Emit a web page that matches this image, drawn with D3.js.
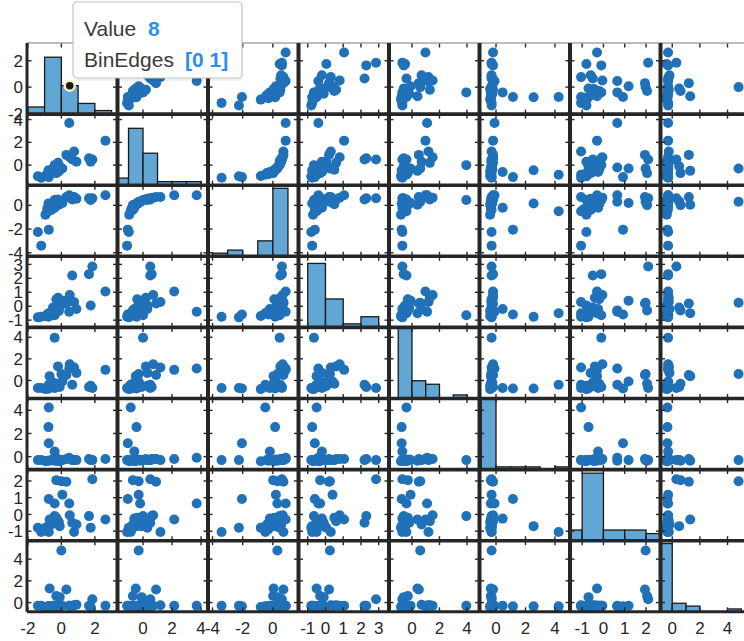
<!DOCTYPE html>
<html><head><meta charset="utf-8">
<script src="https://cdn.jsdelivr.net/npm/d3@7"></script>
<style>
body{margin:0;background:#fff;}
svg{display:block;font-family:"Liberation Sans",Arial,Helvetica,sans-serif;}
</style>
</head><body>
<svg id="c" width="744" height="641"></svg>
<script>
// ---- data: 30 observations of 8 variables ----
const v1 = [0.47,2.63,1.85,1.65,1.75,0.65,0.76,-0.75,-0.77,-0.75,-0.4,-0.4,0.0,-1.2,-1.4,-0.3,0.3,0.06,-0.4,-0.7,-0.95,-0.6,-0.5,-0.2,-0.1,-0.85,-0.3,0.5,0.9,-0.15];
const v2 = [3.7,2.15,0.5,0.6,0.3,0.5,1.2,-0.85,-0.45,-1.05,-0.6,0.0,-0.3,-1.1,-0.98,-0.7,0.9,-0.3,-0.2,-0.5,-0.95,-0.7,-0.35,0.2,-0.1,-0.8,-0.4,0.7,0.3,-0.55];
const v3 = [0.85,0.85,0.6,0.6,0.45,0.5,0.7,-0.5,0.15,-2.05,-0.2,0.45,0.3,-3.4,-2.25,0.02,0.7,0.2,0.3,0.05,-0.8,-0.4,0.2,0.5,0.35,-0.3,0.1,0.65,0.55,0.05];
const v4 = [-0.4,1.05,2.85,2.3,0.05,2.2,0.3,-0.5,-0.75,-0.6,-0.2,-0.65,0.25,-0.75,-0.8,-0.3,0.2,0.4,-0.3,-0.5,-0.7,-0.45,-0.1,0.6,-0.1,-0.6,0.5,0.8,-0.2,-0.35];
const v5 = [1.1,0.98,-0.7,-0.6,-0.5,-0.4,1.2,-0.4,-0.75,-0.75,-0.7,3.95,0.6,-0.7,-0.7,-0.3,0.5,-0.1,-0.4,0.4,-0.8,-0.55,-0.2,1.3,-0.6,-0.65,-0.3,1.5,0.7,-0.5];
const v6 = [-0.1,-0.2,-0.3,-0.2,-0.3,-0.3,-0.3,4.25,2.55,1.15,0.45,-0.3,-0.3,-0.3,-0.3,-0.35,-0.2,-0.3,-0.35,-0.35,-0.4,-0.3,-0.25,-0.2,-0.3,-0.35,-0.3,-0.2,-0.3,-0.4];
const v7 = [0.65,-0.3,2.1,-0.1,-0.8,-0.5,-1.05,-1.05,-0.7,0.92,-0.25,-0.1,1.98,-1.05,-0.8,2.05,1.95,1.18,0.65,-0.3,-0.8,-0.6,-0.5,-0.4,-0.7,-0.9,-0.2,-0.05,-0.6,-0.45];
const v8 = [-0.3,-0.3,0.3,-0.3,-0.4,-0.3,-0.25,-0.35,-0.35,-0.35,-0.3,-0.3,4.8,-0.3,-0.3,0.6,1.2,-0.3,-0.35,1.3,-0.4,-0.35,-0.3,-0.25,0.5,-0.4,-0.3,-0.3,-0.2,-0.35];

// axis limits of each variable
const varLimits = [[-2.05,3.35],[-1.76,4.48],[-4.3,1.7],[-1.52,3.58],[-1.67,4.91],[-1.12,5.02],[-1.57,2.68],[-0.85,5.7]];
// tick labels of each variable
const tickVals = [[-2,0,2],[0,2,4],[-4,-2,0],[-1,0,1,2,3],[0,2,4],[0,2,4],[-1,0,1,2],[0,2,4]];
// y-limit of each diagonal histogram (counts)
const histYMax = [20,20,23,20,20,26,20,25];
// data tip
const tipVar = 0, tipEdges = [0,1];

const vars = [v1,v2,v3,v4,v5,v6,v7,v8];
const N = vars.length;
const L = 27, T = 43, CW = 90.5, RH = 71.1;
const dark = "#262626";

const svg = d3.select("#c");
const defs = svg.append("defs");
const xS = vars.map((v,j)=>d3.scaleLinear().domain(varLimits[j]).range([L+j*CW, L+(j+1)*CW]));
const yS = vars.map((v,i)=>d3.scaleLinear().domain(varLimits[i]).range([T+(i+1)*RH, T+i*RH]));

const plot = svg.append("g");
let tipPoint = null;

for(let i=0;i<N;i++){
  for(let j=0;j<N;j++){
    const id = `clip-${i}-${j}`;
    const x0 = L+j*CW, y0 = T+i*RH;
    defs.append("clipPath").attr("id",id).append("rect")
      .attr("x",x0).attr("y",y0).attr("width",CW).attr("height",RH);
    const g = plot.append("g").attr("clip-path",`url(#${id})`);
    if(i===j){
      const v = vars[i];
      const lo = Math.floor(d3.min(v)), hi = Math.ceil(d3.max(v));
      const bins = d3.bin().domain([lo,hi]).thresholds(d3.range(lo+1,hi))(v);
      const hy = d3.scaleLinear().domain([0,histYMax[i]]).range([y0+RH, y0]);
      g.selectAll("rect").data(bins.filter(b=>b.length>0)).join("rect")
        .attr("x",b=>xS[j](b.x0)).attr("width",b=>xS[j](b.x1)-xS[j](b.x0))
        .attr("y",b=>hy(b.length)).attr("height",b=>y0+RH-hy(b.length))
        .attr("fill","#62a6d6").attr("stroke","#1a1a1a").attr("stroke-width",1.3);
      if(i===tipVar){
        const b = bins.find(b=>b.x0===tipEdges[0]);
        tipPoint = {x: xS[j]((b.x0+b.x1)/2), y: hy(b.length), n: b.length};
      }
    } else {
      const pts = d3.range(v1.length).map(k=>({x:vars[j][k], y:vars[i][k]}));
      g.selectAll("circle").data(pts).join("circle")
        .attr("cx",d=>xS[j](d.x)).attr("cy",d=>yS[i](d.y)).attr("r",5)
        .attr("fill","#2171b9");
    }
  }
}

// tick marks
const tk = svg.append("g").attr("stroke",dark).attr("stroke-width",1.4);
for(let i=0;i<N;i++){
  for(let j=0;j<N;j++){
    const x0 = L+j*CW, y0 = T+i*RH, x1 = x0+CW, y1 = y0+RH;
    tickVals[j].forEach(t=>{
      const x = xS[j](t);
      tk.append("line").attr("x1",x).attr("x2",x).attr("y1",y0).attr("y2",y0+4.5);
      tk.append("line").attr("x1",x).attr("x2",x).attr("y1",y1).attr("y2",y1-4.5);
    });
    tickVals[i].forEach(t=>{
      const y = yS[i](t);
      tk.append("line").attr("x1",x0).attr("x2",x0+4.5).attr("y1",y).attr("y2",y);
      tk.append("line").attr("x1",x1).attr("x2",x1-4.5).attr("y1",y).attr("y2",y);
    });
  }
}

// panel frame lines
const fr = svg.append("g");
const totalH = N*RH, totalW = N*CW;
fr.append("line").attr("x1",L).attr("x2",L+totalW).attr("y1",T).attr("y2",T)
  .attr("stroke","#a6a6a6").attr("stroke-width",1.6);
for(let i=1;i<N;i++){
  fr.append("line").attr("x1",L).attr("x2",L+totalW).attr("y1",T+i*RH).attr("y2",T+i*RH)
    .attr("stroke",dark).attr("stroke-width",3.6);
}
fr.append("line").attr("x1",L).attr("x2",L+totalW).attr("y1",T+totalH).attr("y2",T+totalH)
  .attr("stroke",dark).attr("stroke-width",3);
for(let j=0;j<N;j++){
  fr.append("line").attr("x1",L+j*CW).attr("x2",L+j*CW).attr("y1",T).attr("y2",T+totalH)
    .attr("stroke",dark).attr("stroke-width",j===0?3:4);
}

// tick labels
const fmt = t => t<0 ? "-"+Math.abs(t) : String(t);
const lab = svg.append("g").attr("fill",dark).attr("font-size",17);
for(let i=0;i<N;i++){
  tickVals[i].forEach(t=>{
    lab.append("text").attr("x",L-4).attr("y",yS[i](t)).attr("dy","0.36em")
      .attr("text-anchor","end").text(fmt(t));
  });
}
for(let j=0;j<N;j++){
  tickVals[j].forEach(t=>{
    lab.append("text").attr("x",xS[j](t)).attr("y",T+totalH+16).attr("dy","0.36em")
      .attr("text-anchor","middle").text(fmt(t));
  });
}

// data tip
if(tipPoint){
  svg.append("circle").attr("cx",tipPoint.x).attr("cy",tipPoint.y).attr("r",5)
    .attr("fill","#1a1a1a").attr("stroke","#f4efc2").attr("stroke-width",2.5);
  const tip = svg.append("g");
  tip.append("rect").attr("x",74).attr("y",3).attr("width",168).attr("height",76).attr("rx",4)
    .attr("fill","#000").attr("opacity",0.06).attr("transform","translate(1,2)");
  tip.append("rect").attr("x",73).attr("y",2).attr("width",169).attr("height",76).attr("rx",4)
    .attr("fill","#fff").attr("stroke","#c4c4c4").attr("stroke-width",1.2);
  tip.append("text").attr("x",84).attr("y",36).attr("font-size",21).attr("fill","#3a3a3a").text("Value");
  tip.append("text").attr("x",148).attr("y",36).attr("font-size",21).attr("font-weight","bold").attr("fill","#2a8ff0").text(String(tipPoint.n));
  tip.append("text").attr("x",84).attr("y",67).attr("font-size",21).attr("fill","#3a3a3a").text("BinEdges");
  tip.append("text").attr("x",185).attr("y",67).attr("font-size",21).attr("font-weight","bold").attr("fill","#2a8ff0").text(`[${tipEdges[0]} ${tipEdges[1]}]`);
}
</script>
</body></html>
